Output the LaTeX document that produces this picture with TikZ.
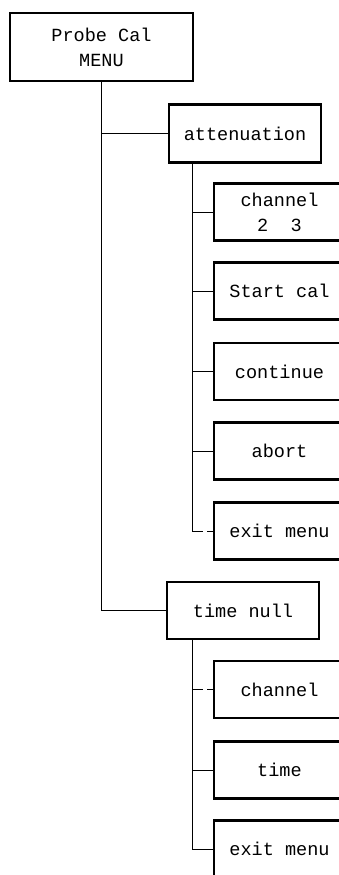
\documentclass[tikz,border=0pt]{standalone}
\usepackage{fontspec}
\setmonofont{Liberation Mono}
\usetikzlibrary{positioning}

\begin{document}
\begin{tikzpicture}[
    menubox/.style={draw, line width=1.6pt, minimum width=3.8cm, minimum height=1.45cm, align=center, font=\fontsize{13.2}{17.8}\selectfont\ttfamily},
    itembox/.style={menubox, minimum width=3.275cm, minimum height=1.425cm},
    link/.style={line width=0.6pt, black},
    gaplink/.style={link, dash pattern=on 7.5pt off 3.5pt on 20pt},
]
\useasboundingbox (0,0) rectangle (8.45,-21.875);

\node[menubox, minimum width=4.575cm, minimum height=1.7cm] (menu) at (2.5375,-1.175) {Probe Cal\\MENU};

% attenuation branch
\node[menubox] (att) at (6.125,-3.3375) {attenuation};
\node[itembox] (ach) at (6.9875,-5.3) {channel\\2~~3};
\node[itembox] (start) at (6.9875,-7.275) {Start cal};
\node[itembox] (cont) at (6.9875,-9.2875) {continue};
\node[itembox] (abort) at (6.9875,-11.275) {abort};
\node[itembox] (aexit) at (6.9875,-13.275) {exit menu};

% time null branch
\node[menubox, minimum height=1.425cm] (tnull) at (6.075,-15.2625) {time null};
\node[itembox] (tch) at (6.9875,-17.2375) {channel};
\node[itembox] (time) at (6.9875,-19.25) {time};
\node[itembox] (texit) at (6.9875,-21.225) {exit menu};

\coordinate (atop) at (4.8,-4.075);
\coordinate (ttop) at (4.8,-15.975);

\draw[link] (menu.south) |- (att.west);
\draw[link] (menu.south) |- (tnull.west);

\draw[link] (atop) |- (ach.west);
\draw[link] (atop) |- (start.west);
\draw[link] (atop) |- (cont.west);
\draw[link] (atop) |- (abort.west);
\draw[link] (atop) -- (atop |- aexit.west);
\draw[gaplink] (atop |- aexit.west) -- (aexit.west);

\draw[link] (ttop) -- (ttop |- texit.west);
\draw[gaplink] (ttop |- tch.west) -- (tch.west);
\draw[link] (ttop |- time.west) -- (time.west);
\draw[link] (ttop |- texit.west) -- (texit.west);
\end{tikzpicture}
\end{document}
